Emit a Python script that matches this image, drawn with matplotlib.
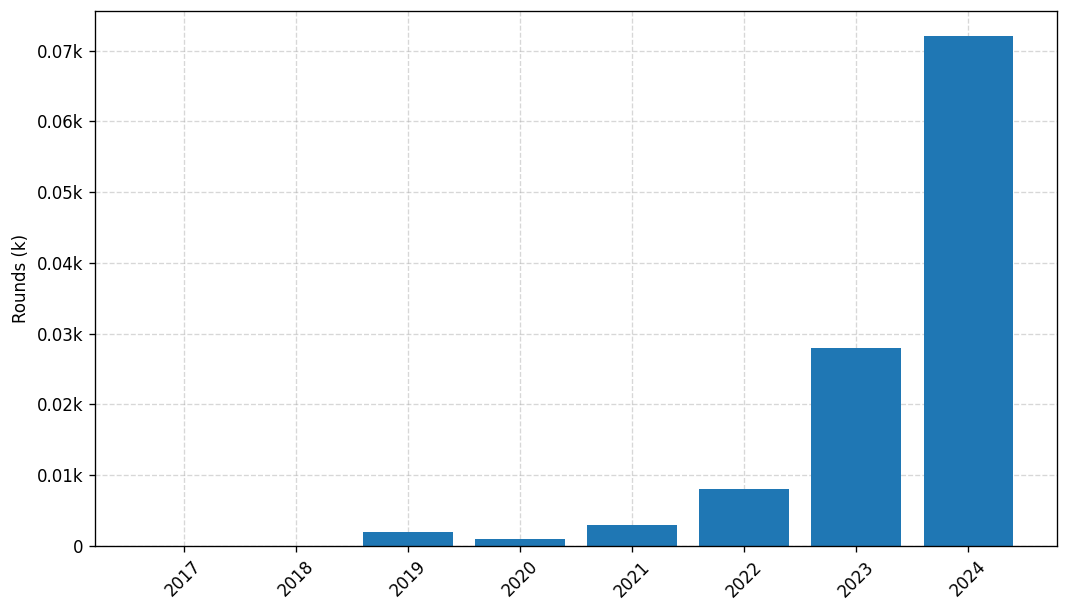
import matplotlib
matplotlib.use("Agg")
import matplotlib.pyplot as plt
from matplotlib.ticker import FuncFormatter

years = ["2017", "2018", "2019", "2020", "2021", "2022", "2023", "2024"]
rounds = [0, 0, 2, 1, 3, 8, 28, 72]

fig, ax = plt.subplots(figsize=(1069 / 120, 612 / 120), dpi=120)
ax.bar(years, rounds, color="#1f77b4", zorder=2)
ax.set_ylabel("Rounds (k)")

def fmt(x, pos):
    if x == 0:
        return "0"
    return f"{x/1000:.2f}k"

ax.yaxis.set_major_formatter(FuncFormatter(fmt))
ax.set_yticks([0, 10, 20, 30, 40, 50, 60, 70])
ax.grid(True, linestyle="--", alpha=0.5, zorder=0)
ax.set_axisbelow(True)
plt.setp(ax.get_xticklabels(), rotation=45)
fig.subplots_adjust(left=95 / 1069, right=1057 / 1069, top=1 - 11 / 612, bottom=1 - 546 / 612)
fig.savefig("out.png", dpi=120)
